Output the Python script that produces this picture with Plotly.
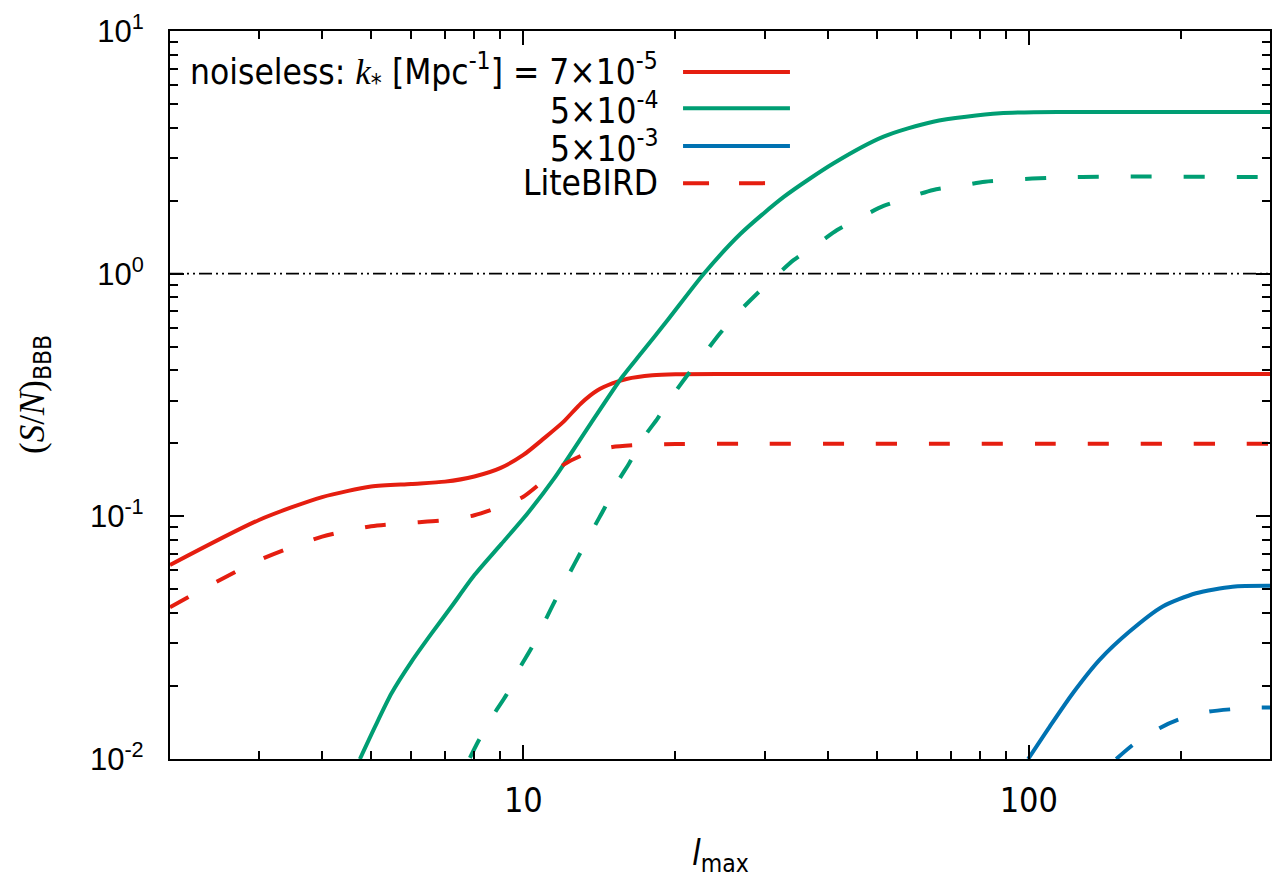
import plotly.graph_objects as go

# ---------------- data ----------------
X_RANGE = [2, 300]
Y_RANGE = [0.01, 10]
THRESHOLD = 1.0

red_l = [2, 3, 4, 5, 6, 7, 8, 9, 10, 11, 12, 13, 14, 15, 16, 18, 20, 25, 30, 50, 100, 300]
red_noiseless = [0.063, 0.0966, 0.120, 0.1326, 0.136, 0.139, 0.146, 0.158, 0.179, 0.210,
                 0.245, 0.292, 0.330, 0.353, 0.368, 0.381, 0.385, 0.386, 0.386, 0.386, 0.386, 0.386]

redd_l = [2, 3, 4, 5, 6, 7, 8, 9, 10, 11, 12, 13, 14, 15, 17, 20, 30, 300]
red_litebird = [0.0422, 0.066, 0.0825, 0.091, 0.094, 0.0964, 0.101, 0.1096, 0.1205, 0.141,
                0.163, 0.1775, 0.1866, 0.193, 0.197, 0.1986, 0.199, 0.199]

green_l = [4.75, 5.09, 5.49, 6.01, 6.59, 7.21, 8.01, 9.05, 10.2, 11.5, 13.6, 15.7, 17.1,
           19.3, 22.8, 26.9, 32.8, 41.1, 51.6, 64.7, 87.7, 120, 300]
green_noiseless = [0.01, 0.0136, 0.0187, 0.0252, 0.033, 0.0425, 0.0574, 0.077, 0.103, 0.143,
                   0.2417, 0.376, 0.47, 0.644, 1.004, 1.46, 2.076, 2.85, 3.67, 4.23, 4.58,
                   4.64, 4.64]

greend_l = [7.84, 8.14, 8.78, 9.26, 9.83, 10.37, 11.02, 11.53, 13.82, 14.47, 15.38, 16.2,
            17.35, 18.44, 19.88, 21.13, 22.96, 24.39, 26.92, 28.82, 32.03, 34.29, 38.7,
            41.76, 47.5, 51.6, 59.1, 64.7, 74.8, 81.9, 120, 300]
green_litebird = [0.0101, 0.0118, 0.0155, 0.01838, 0.02367, 0.0286, 0.0368, 0.0445, 0.0907,
                  0.108, 0.139, 0.1655, 0.213, 0.2535, 0.3215, 0.3825, 0.477, 0.5617, 0.7086,
                  0.817, 1.004, 1.139, 1.354, 1.514, 1.746, 1.901, 2.09, 2.213, 2.32, 2.394,
                  2.50, 2.50]

blue_l = [99.7, 110, 122.3, 138, 158.2, 184, 214.1, 252.9, 300]
blue_noiseless = [0.01, 0.0136, 0.0187, 0.0256, 0.0335, 0.0425, 0.0482, 0.0513, 0.0517]

blued_l = [148.9, 160.6, 181.3, 197, 227.5, 277, 300]
blue_litebird = [0.01, 0.01143, 0.0134, 0.0145, 0.01568, 0.01625, 0.0163]

legend_labels = [
    "noiseless: <span style='font-family:Liberation Serif'><i>k</i></span><sub>*</sub> [Mpc<sup>-1</sup>] = 7×10<sup>-5</sup>",
    "5×10<sup>-4</sup>",
    "5×10<sup>-3</sup>",
    "LiteBIRD",
]

x_tickvals = [10, 100]
x_ticktext = ["10", "100"]
y_tickvals = [0.01, 0.1, 1, 10]
y_ticktext = ["10<sup>-2</sup>", "10<sup>-1</sup>", "10<sup>0</sup>", "10<sup>1</sup>"]

x_minor = [3, 4, 5, 6, 7, 8, 9, 20, 30, 40, 50, 60, 70, 80, 90, 200, 300]
y_minor = [m * d for d in (0.01, 0.1, 1) for m in range(2, 10)]

# ---------------- styling ----------------
RED = "#e51e10"
GREEN = "#009e73"
BLUE = "#0072b2"
DASH = "21px,32px"
LW = 4
NARROW = "Liberation Sans Narrow, Arial Narrow, DejaVu Sans Condensed, sans-serif"
SANS = "Liberation Sans, Arial, sans-serif"

fig = go.Figure()

fig.add_trace(go.Scatter(x=X_RANGE, y=[THRESHOLD, THRESHOLD], mode="lines",
                         line=dict(color="black", width=1.6, dash="13px,4px,2px,4px,2px,4px"),
                         showlegend=False, hoverinfo="skip"))

series = [
    (red_l, red_noiseless, RED, "solid"),
    (green_l, green_noiseless, GREEN, "solid"),
    (blue_l, blue_noiseless, BLUE, "solid"),
    (redd_l, red_litebird, RED, DASH),
    (greend_l, green_litebird, GREEN, DASH),
    (blued_l, blue_litebird, BLUE, DASH),
]
for xs, ys, col, dash in series:
    fig.add_trace(go.Scatter(x=xs, y=ys, mode="lines",
                             line=dict(color=col, width=LW, dash=dash, shape="spline",
                                       smoothing=0.7),
                             showlegend=False))

# ---------------- custom legend (text left of sample, as in reference) ----------------
legend_y = [0.9437, 0.894, 0.842, 0.791]
legend_colors = [RED, GREEN, BLUE, RED]
legend_dash = ["solid", "solid", "solid", "26px,30px"]
annotations = []
shapes = []
for lab, yy, col, ds in zip(legend_labels, legend_y, legend_colors, legend_dash):
    annotations.append(dict(text=lab, x=0.4455, y=yy, xref="paper", yref="paper",
                            xanchor="right", yanchor="middle", showarrow=False,
                            font=dict(family=NARROW, size=35, color="black")))
    shapes.append(dict(type="line", xref="paper", yref="paper", x0=0.4664, x1=0.5636,
                       y0=yy, y1=yy, line=dict(color=col, width=LW, dash=ds)))

# axis titles
annotations.append(dict(text="<i>l</i><sub>max</sub>", x=0.5, y=-0.132, xref="paper",
                        yref="paper", xanchor="center", yanchor="middle", showarrow=False,
                        font=dict(family=NARROW, size=35, color="black")))
annotations.append(dict(text="<span style='font-family:Liberation Serif'>(<i>S</i>/<i>N</i>)</span><sub>BBB</sub>",
                        x=-0.1227, y=0.5, xref="paper", yref="paper", xanchor="center",
                        yanchor="middle", showarrow=False, textangle=-90,
                        font=dict(family=NARROW, size=35, color="black")))

axis_common = dict(showgrid=False, zeroline=False, showline=True, linecolor="black",
                   linewidth=2.2, mirror="allticks", ticks="inside", ticklen=14,
                   tickwidth=1.8, tickcolor="black", automargin=False)

fig.update_xaxes(type="log", range=[0.30103, 2.47712], tickvals=x_tickvals,
                 ticktext=x_ticktext, tickfont=dict(family=NARROW, size=34, color="black"),
                 ticklabelstandoff=10,
                 minor=dict(tickvals=x_minor, ticks="inside", ticklen=8, tickwidth=1.6,
                            tickcolor="black", showgrid=False),
                 **axis_common)
fig.update_yaxes(type="log", range=[-2, 1], tickvals=y_tickvals, ticktext=y_ticktext,
                 tickfont=dict(family=SANS, size=31, color="black"),
                 ticklabelstandoff=18,
                 minor=dict(tickvals=y_minor, ticks="inside", ticklen=8, tickwidth=1.6,
                            tickcolor="black", showgrid=False),
                 **axis_common)

# page body adds an 8px offset, so the figure is drawn 8px smaller
fig.update_layout(width=1279, height=870, margin=dict(l=162, r=17, t=23, b=119),
                  plot_bgcolor="white", paper_bgcolor="white",
                  annotations=annotations, shapes=shapes, showlegend=False)

fig.write_html("out.html")
